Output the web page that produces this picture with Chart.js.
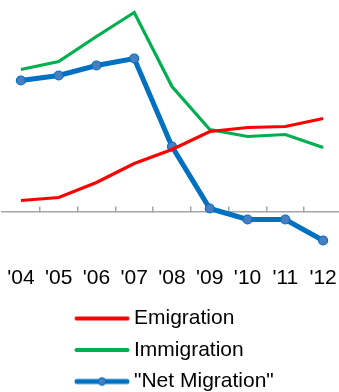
<!DOCTYPE html>
<html>
<head>
<meta charset="utf-8">
<script src="https://cdn.jsdelivr.net/npm/chart.js@4"></script>
<style>
  html, body { margin: 0; padding: 0; background: #fff; overflow: hidden; }
  #wrap { position: relative; width: 344px; height: 402px; }
</style>
</head>
<body>
<div id="wrap"><canvas id="chart"></canvas></div>
<script>
// Migration flows by year (thousands)
const years = ["'04", "'05", "'06", "'07", "'08", "'09", "'10", "'11", "'12"];
const emigration = [11, 14, 29, 48, 62, 80, 84, 85, 93];
const immigration = [142, 150, 175, 199, 125, 82, 75, 77, 64];
const netMigration = [131, 136, 146, 153, 65, 3, -8, -8, -29];

const FONT = "'Liberation Sans', Arial, sans-serif";
const RED = '#ff0000';
const GREEN = '#00b050';
const BLUE = '#0070c0';
const MARKER = '#4a7cc0';

// Legend swatch: a short line segment, optionally with a marker in the middle
function swatch(color, width, withMarker) {
  const c = document.createElement('canvas');
  c.width = 56; c.height = 12;
  const g = c.getContext('2d');
  g.strokeStyle = color;
  g.lineWidth = width;
  g.lineCap = 'round';
  g.beginPath();
  g.moveTo(width / 2 + 0.5, 6);
  g.lineTo(56 - width / 2 - 0.5, 6);
  g.stroke();
  if (withMarker) {
    g.beginPath();
    g.arc(28, 6, 3.6, 0, Math.PI * 2);
    g.fillStyle = MARKER;
    g.fill();
    g.lineWidth = 1.2;
    g.strokeStyle = BLUE;
    g.stroke();
  }
  return c;
}

// Move the stacked legend column in from the left edge
const legendOffset = {
  id: 'legendOffset',
  afterLayout(chart, args, opts) {
    const lg = chart.legend;
    if (!lg) return;
    lg.left += opts.dx;
    lg.right += opts.dx;
  }
};

new Chart(document.getElementById('chart'), {
  type: 'line',
  data: {
    labels: years,
    datasets: [
      { label: 'Emigration', data: emigration, borderColor: RED, backgroundColor: RED, borderWidth: 3.2, pointRadius: 0, tension: 0, swatch: swatch(RED, 4, false) },
      { label: 'Immigration', data: immigration, borderColor: GREEN, backgroundColor: GREEN, borderWidth: 3.2, pointRadius: 0, tension: 0, swatch: swatch(GREEN, 4, false) },
      { label: '"Net Migration"', data: netMigration, borderColor: BLUE, backgroundColor: MARKER, borderWidth: 5, pointRadius: 4.5, pointBorderWidth: 1.2, pointBorderColor: BLUE, pointBackgroundColor: MARKER, tension: 0, swatch: swatch(BLUE, 5, true) }
    ]
  },
  options: {
    responsive: true,
    maintainAspectRatio: false,
    animation: false,
    layout: { autoPadding: false, padding: { left: 2, right: 2, top: 0, bottom: 0 } },
    scales: {
      x: {
        type: 'category', offset: true,
        grid: { display: false, drawTicks: false },
        border: { display: false },
        ticks: { color: '#000', padding: 4, maxRotation: 0, autoSkip: false, font: { family: FONT, size: 21, lineHeight: 1.476 } }
      },
      // zero line with tick marks between the years
      xZero: {
        type: 'category', axis: 'x', offset: true, position: { y: 0 },
        grid: { offset: true, drawOnChartArea: false, drawTicks: true, tickLength: -6, lineWidth: 1.5,
          tickColor: (ctx) => ctx.index === 0 ? 'rgba(0,0,0,0)' : '#a6a6a6' },
        border: { display: true, color: '#a6a6a6', width: 1.5 },
        ticks: { display: false }
      },
      y: { display: false, min: -47, max: 211.5 }
    },
    plugins: {
      tooltip: { enabled: false },
      legendOffset: { dx: 68 },
      legend: {
        position: 'bottom', align: 'start',
        labels: {
          color: '#000', font: { family: FONT, size: 21 }, padding: 10.5,
          usePointStyle: true, pointStyleWidth: 43,
          generateLabels(chart) {
            return chart.data.datasets.map((ds, i) => ({
              text: ds.label, pointStyle: ds.swatch, fillStyle: ds.borderColor, strokeStyle: ds.borderColor,
              lineWidth: 0, hidden: false, datasetIndex: i, fontColor: '#000'
            }));
          }
        }
      }
    }
  },
  plugins: [legendOffset]
});
</script>
</body>
</html>
